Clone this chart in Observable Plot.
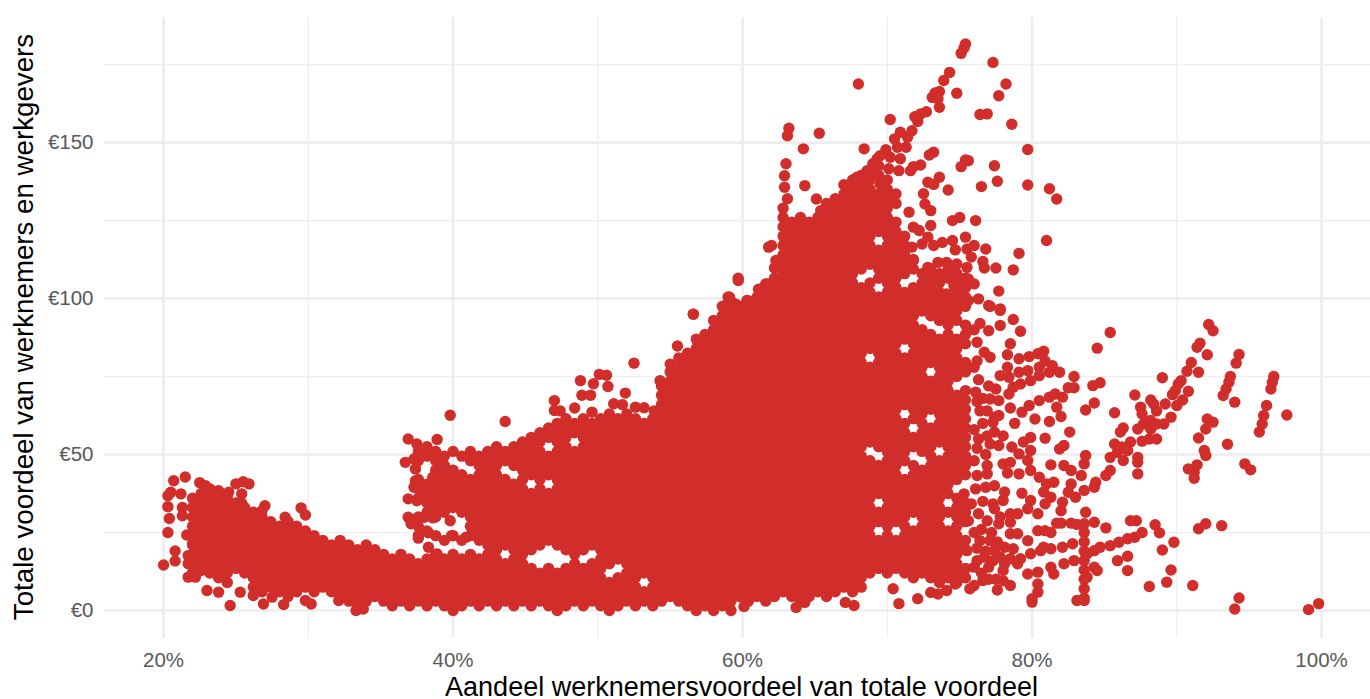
<!DOCTYPE html>
<html><head><meta charset="utf-8">
<script src="https://cdn.jsdelivr.net/npm/d3@7"></script>
<script src="https://cdn.jsdelivr.net/npm/@observablehq/plot@0.6"></script>
<style>html,body{margin:0;padding:0;background:#fff;overflow:hidden}svg{display:block}</style>
</head><body>
<script>
const xMajor=[20,40,60,80,100];
const xMinor=[30,50,70,90];
const yMajor=[0,50,100,150];
const yMinor=[25,75,125,175];
const xLabel="Aandeel werknemersvoordeel van totale voordeel";
const yLabel="Totale voordeel van werknemers en werkgevers";

// [share %, [total € ...]] — overplotted mass read column by column
const leftBand=[
[22,[12,15,18,21,24,27,30,33,36]],
[22.6,[13.5,16.5,19.5,22.5,25.5,28.5,31.5,34.5,37.5]],
[23.2,[12,15,18,21,24,27,30,33,36,39]],
[23.8,[10.5,13.5,16.5,19.5,22.5,25.5,28.5,31.5,34.5,37.5]],
[24.4,[9,12,15,18,21,24,27,30,33,36]],
[25,[13.5,16.5,19.5,22.5,25.5,28.5,31.5,34.5]],
[25.6,[12,15,18,21,24,27,30,33]],
[26.2,[7.5,10.5,13.5,16.5,19.5,22.5,25.5,28.5,31.5]],
[26.8,[6,9,12,15,18,21,24,27,30]],
[27.4,[7.5,10.5,13.5,16.5,19.5,22.5,25.5,28.5]],
[28,[6,9,12,15,18,21,24,27]],
[28.6,[4.5,7.5,10.5,13.5,16.5,19.5,22.5,25.5,28.5]],
[29.2,[6,9,12,15,18,21,24,27]],
[29.8,[7.5,10.5,13.5,16.5,19.5,22.5,25.5]],
[30.4,[6,9,12,15,18,21,24]],
[31,[7.5,10.5,13.5,16.5,19.5,22.5]],
[31.6,[6,9,12,15,18,21]],
[32.2,[4.5,7.5,10.5,13.5,16.5,19.5,22.5]],
[32.8,[3,6,9,12,15,18,21]],
[33.4,[1.5,4.5,7.5,10.5,13.5,16.5,19.5]],
[34,[3,6,9,12,15,18,21]],
[34.6,[4.5,7.5,10.5,13.5,16.5,19.5]],
[35.2,[3,6,9,12,15,18]],
[35.8,[1.5,4.5,7.5,10.5,13.5,16.5]],
[36.4,[3,6,9,12,15,18]],
[37,[1.5,4.5,7.5,10.5,13.5,16.5]],
[37.6,[3,6,9,12,15]],
[38.2,[1.5,4.5,7.5,10.5,13.5,16.5]],
[38.8,[3,6,9,12,15,18]],
[39.4,[1.5,4.5,7.5,10.5,13.5,16.5]],
[40,[0,3,6,9,12,15,18]],
[40.6,[1.5,4.5,7.5,10.5,13.5,16.5]],
[41.2,[3,6,9,12,15,18]],
[41.8,[1.5,4.5,7.5,10.5,13.5,16.5]]
];
const upperBand=[
[37.6,[24,27,30,36,39,42,48,51]],
[38.2,[25.5,31.5,34.5,37.5,40.5,49.5,52.5]],
[38.8,[24,30,33,36,39,42,45,48,51]],
[39.4,[22.5,31.5,34.5,37.5,40.5,43.5,46.5,49.5]],
[40,[24,33,36,39,42,45,51]],
[40.6,[22.5,31.5,34.5,37.5,40.5,43.5,49.5]],
[41.2,[24,27,30,33,36,39,42,48,51]],
[41.8,[22.5,25.5,28.5,31.5,34.5,37.5,40.5,43.5,46.5,49.5]]
];
const middleBand=[
[42.4,[3,6,9,12,15,18,21,24,27,30,33,36,39,42,45,48,51]],
[43,[1.5,4.5,7.5,10.5,13.5,16.5,19.5,22.5,25.5,28.5,31.5,34.5,37.5,40.5,43.5,46.5,49.5,52.5]],
[43.6,[3,6,9,12,15,21,24,27,30,33,36,39,42,48,51]],
[44.2,[1.5,4.5,7.5,10.5,13.5,16.5,19.5,22.5,25.5,28.5,31.5,34.5,37.5,40.5,46.5,49.5,52.5]],
[44.8,[3,6,9,12,15,18,21,24,27,30,33,36,39,42,45,48,51,54]],
[45.4,[1.5,4.5,7.5,10.5,13.5,19.5,22.5,25.5,28.5,31.5,34.5,37.5,43.5,46.5,49.5,52.5,55.5]],
[46,[3,6,9,12,21,24,27,30,33,36,39,42,45,48,51,54,57]],
[46.6,[1.5,4.5,7.5,10.5,13.5,22.5,25.5,28.5,31.5,34.5,37.5,43.5,46.5,49.5,55.5,58.5]],
[47.2,[0,3,6,9,12,21,24,27,30,33,36,39,42,45,48,51,54,57,60]],
[47.8,[1.5,4.5,7.5,10.5,13.5,19.5,22.5,25.5,28.5,31.5,34.5,37.5,40.5,43.5,46.5,49.5,52.5,55.5,58.5,61.5]],
[48.4,[3,6,9,12,15,18,21,24,27,30,33,36,39,42,45,48,51,57,60]],
[49,[1.5,4.5,7.5,10.5,13.5,19.5,22.5,25.5,28.5,31.5,34.5,37.5,40.5,43.5,46.5,49.5,52.5,55.5,58.5,61.5]],
[49.6,[3,6,9,12,15,21,24,27,30,33,36,39,42,45,48,51,54,57,60]],
[50.2,[1.5,4.5,7.5,10.5,13.5,16.5,19.5,22.5,25.5,28.5,31.5,34.5,37.5,40.5,43.5,46.5,49.5,52.5,55.5,58.5,61.5]],
[50.8,[0,3,6,9,15,18,21,24,27,30,33,36,39,42,45,48,51,54,57,60,63]],
[51.4,[1.5,4.5,7.5,10.5,16.5,19.5,22.5,25.5,28.5,31.5,34.5,37.5,40.5,43.5,46.5,49.5,52.5,55.5,58.5,61.5]],
[52,[3,6,9,12,15,18,21,24,27,30,33,36,39,42,45,48,51,54,57,60,63]],
[52.6,[1.5,4.5,7.5,10.5,13.5,16.5,19.5,22.5,25.5,28.5,31.5,34.5,37.5,40.5,43.5,46.5,49.5,52.5,55.5,58.5,61.5]],
[53.2,[3,6,12,15,18,21,24,27,30,33,36,39,42,45,48,51,54,57,60]],
[53.8,[1.5,4.5,7.5,10.5,13.5,16.5,19.5,22.5,25.5,28.5,31.5,34.5,37.5,40.5,43.5,46.5,49.5,52.5,55.5,58.5,61.5]]
];
const riseBand=[
[54.4,[3,6,9,12,15,18,21,24,27,30,33,36,39,42,45,48,51,54,57,60,63,66,69,72]],
[55,[4.5,7.5,10.5,13.5,16.5,19.5,22.5,25.5,28.5,31.5,34.5,37.5,40.5,43.5,46.5,49.5,52.5,55.5,58.5,61.5,64.5,67.5,70.5,73.5,76.5]],
[55.6,[3,6,9,12,15,18,21,24,27,30,33,36,39,42,45,48,51,54,57,60,63,66,69,72,75,78,81]],
[56.2,[1.5,4.5,7.5,10.5,13.5,16.5,19.5,22.5,25.5,28.5,31.5,34.5,37.5,40.5,43.5,46.5,49.5,52.5,55.5,58.5,61.5,64.5,67.5,70.5,73.5,76.5,79.5,82.5]],
[56.8,[0,3,6,9,12,15,18,21,24,27,30,33,36,39,42,45,48,51,54,57,60,63,66,69,72,75,78,81,84]],
[57.4,[1.5,4.5,7.5,10.5,13.5,16.5,19.5,22.5,25.5,28.5,31.5,34.5,37.5,40.5,43.5,46.5,49.5,52.5,55.5,58.5,61.5,64.5,67.5,70.5,73.5,76.5,79.5,82.5,85.5,88.5]],
[58,[0,3,6,9,12,15,18,21,24,27,30,33,36,39,42,45,48,51,54,57,60,63,66,69,72,75,78,81,84,87,90]],
[58.6,[1.5,4.5,7.5,10.5,13.5,16.5,19.5,22.5,25.5,28.5,31.5,34.5,37.5,40.5,43.5,46.5,49.5,52.5,55.5,58.5,61.5,64.5,67.5,70.5,73.5,76.5,79.5,82.5,85.5,88.5,91.5,94.5,97.5]],
[59.2,[0,3,6,9,12,15,18,21,24,27,30,33,36,39,42,45,48,51,54,57,60,63,66,69,72,75,78,81,84,87,90,93,96,99]],
[59.8,[4.5,7.5,10.5,13.5,16.5,19.5,22.5,25.5,28.5,31.5,34.5,37.5,40.5,43.5,46.5,49.5,52.5,55.5,58.5,61.5,64.5,67.5,70.5,73.5,76.5,79.5,82.5,85.5,88.5,91.5,94.5,97.5]],
[60.4,[3,6,9,12,15,18,21,24,27,30,33,36,39,42,45,48,51,54,57,60,63,66,69,72,75,78,81,84,87,90,93,96]],
[61,[4.5,7.5,10.5,13.5,16.5,19.5,22.5,25.5,28.5,31.5,34.5,37.5,40.5,43.5,46.5,49.5,52.5,55.5,58.5,61.5,64.5,67.5,70.5,73.5,76.5,79.5,82.5,85.5,88.5,91.5,94.5,97.5,100.5]],
[61.6,[3,6,9,12,15,18,21,24,27,30,33,36,39,42,45,48,51,54,57,60,63,66,69,72,75,78,81,84,87,90,93,96,99,102]],
[62.2,[4.5,7.5,10.5,13.5,16.5,19.5,22.5,25.5,28.5,31.5,34.5,37.5,40.5,43.5,46.5,49.5,52.5,55.5,58.5,61.5,64.5,67.5,70.5,73.5,76.5,79.5,82.5,85.5,88.5,91.5,94.5,97.5,100.5,103.5,106.5]]
];
const coreBand=[
[62.8,[6,9,12,15,18,21,24,27,30,33,36,39,42,45,48,51,54,57,60,63,66,69,72,75,78,81,84,87,90,93,96,99,102,105,108,111,114,117,120,123,126,129]],
[63.4,[4.5,7.5,10.5,13.5,16.5,19.5,22.5,25.5,28.5,31.5,34.5,37.5,40.5,43.5,46.5,49.5,52.5,55.5,58.5,61.5,64.5,67.5,70.5,73.5,76.5,79.5,82.5,85.5,88.5,91.5,94.5,97.5,100.5,103.5,106.5,109.5,112.5,115.5,118.5,121.5,124.5]],
[64,[3,6,9,12,15,18,21,24,27,30,33,36,39,42,45,48,51,54,57,60,63,66,69,72,75,78,81,84,87,90,93,96,99,102,105,108,111,114,117,120,123,126]],
[64.6,[4.5,7.5,10.5,13.5,16.5,19.5,22.5,25.5,28.5,31.5,34.5,37.5,40.5,43.5,46.5,49.5,52.5,55.5,58.5,61.5,64.5,67.5,70.5,73.5,76.5,79.5,82.5,85.5,88.5,91.5,94.5,97.5,100.5,103.5,106.5,109.5,112.5,115.5,118.5,121.5,124.5]],
[65.2,[6,9,12,15,18,21,24,27,30,33,36,39,42,45,48,51,54,57,60,63,66,69,72,75,78,81,84,87,90,93,96,99,102,105,108,111,114,117,120,123,126]],
[65.8,[4.5,7.5,10.5,13.5,16.5,19.5,22.5,25.5,28.5,31.5,34.5,37.5,40.5,43.5,46.5,49.5,52.5,55.5,58.5,61.5,64.5,67.5,70.5,73.5,76.5,79.5,82.5,85.5,88.5,91.5,94.5,97.5,100.5,103.5,106.5,109.5,112.5,115.5,118.5,121.5,124.5,127.5,130.5]],
[66.4,[6,9,12,15,18,21,24,27,30,33,36,39,42,45,48,51,54,57,60,63,66,69,72,75,78,81,84,87,90,93,96,99,102,105,108,111,114,117,120,123,126,129,132]],
[67,[7.5,10.5,13.5,16.5,19.5,22.5,25.5,28.5,31.5,34.5,37.5,40.5,43.5,46.5,49.5,52.5,55.5,58.5,61.5,64.5,67.5,70.5,73.5,76.5,79.5,82.5,85.5,88.5,91.5,94.5,97.5,100.5,103.5,106.5,109.5,112.5,115.5,118.5,121.5,124.5,127.5,130.5,133.5,136.5]],
[67.6,[6,9,12,15,18,21,24,27,30,33,36,39,42,45,48,51,54,57,60,63,66,69,72,75,78,81,84,87,90,93,96,99,102,105,108,111,114,117,120,123,126,129,132,135,138]],
[68.2,[7.5,10.5,13.5,16.5,19.5,22.5,25.5,28.5,31.5,34.5,37.5,40.5,43.5,46.5,49.5,52.5,55.5,58.5,61.5,64.5,67.5,70.5,73.5,76.5,79.5,82.5,85.5,88.5,91.5,94.5,97.5,100.5,103.5,109.5,112.5,115.5,118.5,121.5,124.5,127.5,130.5,133.5,136.5,139.5]],
[68.8,[12,15,18,21,24,27,30,33,36,39,42,45,48,54,57,60,63,66,69,72,75,78,84,87,90,93,96,99,102,105,111,114,117,120,123,126,129,132,135,138,141]],
[69.4,[13.5,16.5,19.5,22.5,28.5,31.5,37.5,40.5,43.5,46.5,52.5,55.5,58.5,61.5,64.5,67.5,70.5,73.5,76.5,79.5,82.5,85.5,88.5,91.5,94.5,97.5,100.5,106.5,109.5,112.5,115.5,121.5,124.5,127.5,130.5,133.5,139.5,142.5]],
[70,[12,15,18,21,24,27,30,33,36,39,42,45,48,51,54,57,60,63,66,69,72,75,78,81,84,87,90,93,96,99,102,105,108,111,114,117,120,123,126,129,132,135,138]]
];
const shoulderBand=[
[70.6,[13.5,16.5,19.5,22.5,28.5,31.5,34.5,37.5,40.5,43.5,46.5,49.5,52.5,55.5,58.5,61.5,64.5,67.5,70.5,73.5,76.5,79.5,82.5,85.5,88.5,91.5,94.5,97.5,100.5,103.5,106.5,109.5,112.5,115.5,118.5,121.5,124.5,130.5,133.5]],
[71.2,[12,15,18,21,24,27,30,33,36,39,42,48,51,54,57,60,66,69,72,75,78,81,87,90,93,96,99,102,108,111,114,117,120]],
[71.8,[10.5,13.5,16.5,19.5,22.5,25.5,31.5,34.5,37.5,40.5,43.5,46.5,52.5,55.5,61.5,64.5,67.5,70.5,73.5,76.5,79.5,82.5,85.5,88.5,91.5,94.5,97.5,100.5,103.5,109.5,112.5]],
[72.4,[12,15,18,21,24,27,30,33,36,39,42,45,51,54,57,60,63,66,69,72,75,78,81,84,87,90,96,99,102,105,108]],
[73,[10.5,13.5,16.5,19.5,22.5,25.5,28.5,31.5,34.5,37.5,40.5,43.5,46.5,49.5,52.5,55.5,58.5,64.5,67.5,70.5,73.5,79.5,82.5,85.5,88.5,94.5,97.5,100.5,103.5,106.5,109.5]],
[73.6,[9,12,15,18,21,24,27,30,33,36,39,42,45,48,54,57,60,63,66,69,72,75,78,81,84,87,93,96,99,102,105,108]],
[74.2,[10.5,13.5,16.5,19.5,22.5,25.5,31.5,37.5,40.5,43.5,46.5,49.5,52.5,55.5,58.5,61.5,64.5,67.5,70.5,73.5,76.5,79.5,82.5,85.5,88.5,91.5,94.5,97.5,100.5,106.5,109.5]],
[74.8,[9,12,15,18,21,24,27,30,33,36,42,45,48,51,54,57,60,63,66,69,75,78,81,84,87,93,96,99,102,105,108]],
[75.4,[10.5,13.5,19.5,22.5,28.5,31.5,34.5,43.5,46.5,49.5,52.5,55.5,58.5,61.5,64.5,67.5,70.5,76.5,79.5,85.5,88.5,91.5,97.5,100.5,103.5,106.5]]
];

// single dots, [share %, total €]
const leftFringe=[[20,14.6],[20.8,15.9],[20.8,19.1],[20.3,25],[20.4,29.5],[20.3,33.3],[20.3,36.8],[20.5,37.9],[20.7,41.6],[21.5,42.8],[21.2,37.4],[21.3,33],[21.3,30.4],[21.6,24.2],[22,21.4],[21.7,17.6],[21.7,15],[21.7,10.7],[22.2,10.7],[22.6,12.8],[23,6.4],[23.8,5.9],[24.6,1.6],[25.3,5.9],[26.2,4.8],[26.9,2.1],[28.3,1.9],[29.8,3.2],[30.2,2.1],[27.5,4.3],[32.1,3.2],[33.3,0],[33.8,.5],[25,40.6],[25.5,41.3],[25.9,40.6],[25.4,37.4],[25.4,34.4],[27,33.6],[26.8,32],[26.1,31],[29.5,32.9],[29.8,30.6],[28.4,29.9],[22.5,41],[22.9,40],[23.8,38.4],[24.5,37.9]];
const upperFringe=[[36.9,55],[38.9,54.8],[39.8,62.6],[43.6,60.6],[37.5,53.4],[36.7,47.5],[37.3,48.6],[37.4,45.4],[37.4,41.6],[37.3,39.5],[36.9,35.8],[37.5,35.2],[38.6,42.7],[36.9,29.9],[37.1,27.8],[38,29.9],[38.6,29.7],[39.8,28.8],[39.9,24],[38.3,24.9],[37.6,23.2],[38.3,20.3],[38.9,18.1],[40.9,23.5],[59.7,105.8],[56.6,95],[58,93],[58.3,88],[56.8,87],[55.5,84.8],[57.3,85],[55,79],[52.5,79.3],[54.3,73.7],[48.8,73.7],[50.1,75.7],[50.6,75.4],[49.7,72.7],[50.7,71.8],[48.9,69],[49.5,69],[51.9,69.7],[47,67.3],[47,64.1],[47.4,64],[48.4,64.9],[49.6,63.6],[51.1,66.3],[51.7,66],[52.6,65.2],[53.2,65],[53.9,64],[54.8,66.8],[55,71.4],[59,100.5],[60.4,99.2],[61.1,103],[61.7,104.7],[60.1,1.3],[63.7,1],[64.3,2.6],[67.1,2.6],[67.7,1.6],[70.4,7],[70.8,2.2],[72.1,3.8],[73,5.8]];
const peakFringe=[[75.4,181.6],[75.3,180.3],[75.1,178.6],[77.3,175.7],[78.2,168.8],[77.7,165],[68,168.8],[74.3,172.5],[73.9,169.9],[74.8,165.8],[73.6,166.4],[73.3,165.9],[73.1,164.5],[73.5,164],[73.6,161.3],[72.7,159.9],[72.3,159.2],[71.9,158.3],[72.1,156.8],[70.2,157.4],[76.4,159],[76.9,159.2],[78.6,155.9],[79.7,147.8],[79.7,136.4],[81.2,135.2],[81.7,131.9],[81,118.6],[63.2,154.6],[63.1,152.2],[65.3,153],[64.2,148],[68.4,148],[70.9,153.3],[71.7,153.8],[71.4,151.7],[70.5,151.2],[71.3,148.5],[70.7,148.5],[69.9,147.7],[69.5,145.8],[70.9,144.8],[70.2,145.3],[73.2,146.9],[72.9,146],[75.6,144.2],[75.4,144.4],[75.1,142.3],[77.4,142.6],[77.6,137.6],[76.5,135.9],[72.3,142.8],[71.8,142.3],[71.6,141],[73.6,138.9],[72.8,137.3],[73.2,136.6],[74.2,134.8],[72.5,133.6],[69.3,144.8],[69,143.2],[68.6,141],[70.1,141.6],[70.8,141],[67.9,138.9],[69.5,136.7],[63,143.2],[62.9,139.4],[62.9,135.7],[63.1,132],[64.3,136.2],[65.1,131.9],[65.4,128.2],[72.6,130.3],[73,128.2],[71.5,127.7],[75,126],[74.5,125],[76.1,125],[73,123.4],[71.8,122.9],[72.2,121.8],[75.4,119.7],[74.5,118.6],[73.8,118],[72.8,119.7],[72.4,117.5],[71.7,116.5],[73.2,117],[74.7,115.6],[76,117],[75.5,115.9],[76.8,115.9],[79.1,114.5],[75.8,113.3],[76.6,111.9],[76.7,109.8],[77.5,109.8],[78.7,109.2],[71.8,112.2],[73.5,111.6],[74.1,111.6],[74.8,111.1],[75.5,110],[72.8,110],[75.6,106.3],[76,104.7],[74.6,104.2],[75,102.6],[77.7,102.4],[74.1,101.5],[75.6,99.4],[76.3,99.9],[77,97.8],[77.8,96.7],[61.8,116.5],[62,117],[59.7,106.5],[61.3,103.1],[61.6,104.7],[62.3,112.2],[62.2,109.8],[59.1,100.4],[59.5,98.3],[60.3,99.4],[61,97.2],[58.8,97.8],[56.6,95]];
const rightFringe=[[85.4,89.1],[84.5,84.1],[92.2,91.7],[92.5,89.7],[91.4,84.4],[91.6,85.7],[92.1,82],[91,79.5],[90.7,76.7],[91.5,76.4],[90.3,73.7],[90.1,72.6],[89.9,70.5],[89.7,69.2],[90.8,70.3],[90.4,67.5],[90,65.7],[89.2,66.2],[89,74.6],[87.1,69.1],[88.2,67.5],[88.4,66.2],[87.5,65.2],[87.6,63],[88.6,64],[89.6,62],[89.1,59.8],[88.2,60.9],[87.7,59.8],[87.3,58.2],[88.2,58.2],[88.6,59.8],[88.6,55],[88.1,55],[87.6,54.3],[86.3,58.5],[86.1,57.2],[85.7,63.4],[83.7,64.3],[84.3,66.5],[82.9,75],[82.9,71.4],[82.5,71.4],[84.2,72.1],[84.7,73],[82.6,57.2],[82.2,52.9],[81.9,51.8],[80.9,55.2],[81.2,60.6],[78.8,60],[80.2,61.4],[85.7,53.4],[86.2,52.4],[86.8,54],[86.6,51.3],[85.9,50.7],[85.4,49.1],[86.3,48.1],[87.3,49.1],[87.3,47.5],[87.3,43.8],[85.4,44.9],[85.1,43.3],[84.4,41.1],[84.3,39.5],[83.6,38.5],[83,36.3],[82.5,37.9],[83.7,49.7],[83.6,47],[83.4,43.3],[82.7,44.9],[82.2,46.5],[82.7,40.6],[81.3,46.7],[79.3,37.6],[93.5,53.3],[92.1,61.4],[92.5,60.4],[92,58.2],[91.5,55.3],[91.9,51.3],[92,49.7],[91.4,46.7],[90.8,45.4],[91.2,44.3],[91.2,42.4],[94.7,47],[95.1,45.1],[94.3,82.1],[94.1,79.3],[93.7,75],[93.6,73.2],[93.4,71],[93.2,68.9],[94,66.8],[96.7,75],[96.6,73.2],[96.5,71],[96.2,65.7],[96,62.5],[95.9,59.8],[95.7,57.2],[97.6,62.7],[87.2,28.8],[86.8,28.8],[87.6,25],[87.1,23.5],[86.6,23],[86,21.9],[85.4,20.8],[84.7,20.3],[84.3,19.2],[86.6,17.4],[85.9,16],[86.6,12.8],[88.5,27.5],[88.8,24.9],[89.8,21.9],[89,19.4],[89.6,13],[89.3,9.1],[88.1,7.7],[91.1,8],[91.5,26.2],[92,27.8],[93.1,27.2],[94.3,4],[94,.5],[99.1,.3],[99.8,2.2],[83.7,31.5],[84.3,28.3],[85.1,26.5],[83.6,27.8],[83.6,25],[83.6,22],[83.6,19],[83.6,16],[83.6,13],[83.6,10],[83.6,7],[83.6,4],[83.1,3.2],[83.6,3.2],[80,2.7],[80,3.8],[80.4,5.9],[80.4,8.5],[78.5,8],[77.6,6.6],[75.7,7],[74.7,8.5],[74.1,6.4],[73.5,5.3],[80.4,25.6],[80.9,25.6],[81.7,28],[82,28],[82.7,28],[83.1,27.6],[81.3,25],[77.8,17.1],[78.5,16.6],[79.2,16.6],[79.9,18.2],[80.6,19.2],[81.3,19.8],[82.1,20.3],[82.8,21.4],[78.1,20.3],[78.7,19.8],[79.7,22.4],[78.5,24.6],[79,24.6],[78.1,15],[79,15],[79.7,11.7],[80.4,12.3],[81.3,13.9],[81.5,11.7],[82.2,15],[82.9,16],[83.8,18.2],[84.3,13.9],[84.5,12.8],[83.8,10.7],[80.8,20.3]];
const middleFringe=[[80.8,83.1],[80.4,82.3],[79.8,81.4],[79.1,80.7],[80.9,80],[81.4,78.5],[81.9,76.4],[81.2,76.4],[80.5,78],[79.7,76.9],[79.1,76.4],[78.3,78],[77.8,75.3],[78.4,74.8],[80.5,75.3],[79.9,73.7],[79.2,72.6],[78.7,71.6],[78.4,69.4],[77.5,71],[77.1,67.8],[77.7,67.3],[81.6,69.4],[82.1,68.4],[81.2,68.4],[80.5,67.3],[79.8,65.7],[79.3,63.6],[78.5,64.9],[81.7,65.2],[82,62.2],[78.5,85.5],[78.3,82],[79.2,89.5],[78.7,93.3],[77.8,96.2],[77.1,97.5],[77.8,91.4],[77,89.7],[76.7,82.8],[77.1,81.2],[76.2,86],[76.4,92],[77.4,62],[77.7,62.5],[77.3,60.4],[76.9,56],[77.4,57.2],[78,56],[77.1,53.4],[77.7,52.9],[79.9,55.5],[79.4,54],[79.9,51.3],[78.6,52.4],[78,47],[78.5,47.5],[79.1,50.2],[79.7,48.1],[79.9,44.9],[80.5,42.7],[78.3,44.1],[79.1,43.8],[76.9,46.5],[76.9,43.8],[76.2,43.3],[81,40.6],[81.5,41.1],[80.8,38],[81.3,36.3],[82.1,34.7],[82,32],[80.9,34.2],[80.4,31],[79.9,35.3],[76.1,39],[76.8,39.5],[77.4,40],[78.1,38],[78,35.3],[77.3,34.2],[77.4,32.6],[75.3,37.4],[75,34.2],[76.3,31],[76.9,28.8],[77.7,27.8],[78.5,31],[79,31],[78.5,28.3],[79.7,32.6],[75.6,28.8],[75.8,34.2],[77.1,22.4],[77.4,19.2],[76.7,17.1],[76.4,22.4],[75.5,19.2],[76,13.9],[77,13.9],[78,12.8],[76.6,9.6],[75.3,10.7],[76.1,70],[76.3,74],[76,78],[76.4,64],[76,58],[76.2,52],[76,48],[76.3,55],[76,90],[76.2,80],[76.5,12],[77,10],[76.2,16],[77.3,16],[76.8,19],[77.6,22],[76,25],[76.5,26],[77.2,25],[77.8,30],[76.6,35],[76.2,20],[77.5,10],[78,9.5],[76,8],[76.8,50],[76.6,60],[76.9,64],[77,72],[76.6,68],[76.2,67]];

const fromColumns=c=>c.flatMap(([x,ys])=>ys.map(y=>({x,y})));
const fromPairs=p=>p.map(([x,y])=>({x,y}));
const points=[
  ...fromColumns(leftBand),...fromColumns(upperBand),...fromColumns(middleBand),
  ...fromColumns(riseBand),...fromColumns(coreBand),...fromColumns(shoulderBand),
  ...fromPairs(leftFringe),...fromPairs(upperFringe),...fromPairs(peakFringe),
  ...fromPairs(rightFringe),...fromPairs(middleFringe)
];

const chart=Plot.plot({
  width:1370,height:699,
  marginLeft:104,marginRight:0,marginTop:17,marginBottom:61,
  style:{background:"#fff",fontFamily:"'Liberation Sans',Arial,sans-serif",overflow:"hidden"},
  x:{domain:[15.92,103.38]},
  y:{domain:[-8.97,190.1]},
  marks:[
    Plot.ruleX(xMinor,{stroke:"#efefef",strokeWidth:1.3}),
    Plot.ruleY(yMinor,{stroke:"#efefef",strokeWidth:1.3}),
    Plot.ruleX(xMajor,{stroke:"#ededed",strokeWidth:2.6}),
    Plot.ruleY(yMajor,{stroke:"#ededed",strokeWidth:2.6}),
    Plot.axisX({ticks:xMajor,tickSize:0,tickPadding:14,tickFormat:d=>d+"%",label:null,fontSize:20.5,color:"#595959"}),
    Plot.axisY({ticks:yMajor,tickSize:0,tickPadding:11,tickFormat:d=>"€"+d,label:null,fontSize:20.5,color:"#595959"}),
    Plot.dot(points,{x:"x",y:"y",r:5.7,fill:"#d12d2a",stroke:"none"}),
    Plot.text([xLabel],{frameAnchor:"bottom",lineAnchor:"middle",dx:4,dy:49,fontSize:27,fill:"#000"}),
    Plot.text([yLabel],{frameAnchor:"left",textAnchor:"middle",dx:-80,dy:-1,rotate:-90,fontSize:27.7,fill:"#000"})
  ]
});
document.body.appendChild(chart);
</script>
</body></html>
